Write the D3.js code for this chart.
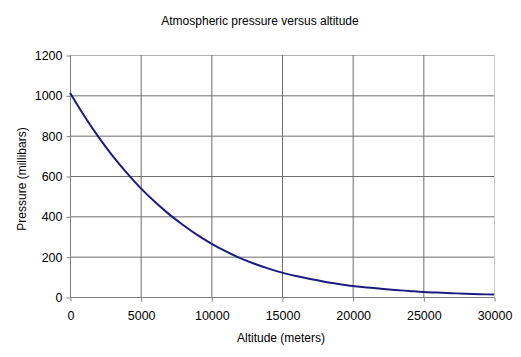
<!DOCTYPE html>
<html><head><meta charset="utf-8">
<script src="https://cdn.jsdelivr.net/npm/d3@7"></script>
<style>body{margin:0;background:#fff}svg{display:block}text{font-family:"Liberation Sans",Arial,sans-serif;fill:#000}</style>
</head><body>
<script>
const title = "Atmospheric pressure versus altitude";
const xTitle = "Altitude (meters)";
const yTitle = "Pressure (millibars)";
const altitude = [0,1000,2000,3000,4000,5000,6000,7000,8000,9000,10000,11000,12000,13000,14000,15000,16000,17000,18000,19000,20000,21000,22000,23000,24000,25000,26000,27000,28000,29000,30000];
const pressure = [1013,899,795,701,617,540,472,411,357,308,265,227,194,166,142,121,104,89,76,65,55,47,41,35,30,25,22,19,16,14,12];
const xTicks = [0,5000,10000,15000,20000,25000,30000];
const yTicks = [0,200,400,600,800,1000,1200];

const W=521,H=357;
const svg=d3.select("body").append("svg").attr("width",W).attr("height",H);
const x=d3.scaleLinear().domain([0,30000]).range([70,494]);
const y=d3.scaleLinear().domain([0,1200]).range([297,55]);

// gridlines
svg.append("g").selectAll("line.h").data(yTicks.filter(d=>d>0)).join("line")
  .attr("x1",x(0)).attr("x2",x(30000)).attr("y1",d=>y(d)+0.5).attr("y2",d=>y(d)+0.5)
  .attr("stroke",d=>d===1200?"#b0b0b0":"#6e6e6e").attr("stroke-width",1);
svg.append("g").selectAll("line.v").data(xTicks.filter(d=>d>0)).join("line")
  .attr("x1",d=>x(d)+0.5).attr("x2",d=>x(d)+0.5).attr("y1",y(1200)).attr("y2",y(0))
  .attr("stroke",d=>d===30000?"#c8c8c8":"#6e6e6e").attr("stroke-width",1);

// axes
const yAxis=d3.axisLeft(y).tickValues(yTicks).tickSize(4).tickPadding(4).tickFormat(d3.format("d"));
const xAxis=d3.axisBottom(x).tickValues(xTicks).tickSize(4).tickPadding(10).tickFormat(d3.format("d"));
const gy=svg.append("g").attr("transform","translate(70.5,0.5)").call(yAxis);
const gx=svg.append("g").attr("transform","translate(0.5,297.5)").call(xAxis);
[gx,gy].forEach(g=>{
  g.select(".domain").attr("stroke","#808080");
  g.selectAll(".tick line").attr("stroke","#808080");
  g.selectAll(".tick text").attr("font-size","12.5px").attr("fill","#000").attr("font-family","Liberation Sans, Arial, sans-serif");
});
gx.select(".domain").attr("d","M"+x(0)+",0H"+x(30000));
gy.select(".domain").attr("d","M0,"+y(1200)+"V"+y(0));

// line
const line=d3.line().x((d,i)=>x(altitude[i])).y(d=>y(d)).curve(d3.curveMonotoneX);
svg.append("path").datum(pressure).attr("d",line).attr("fill","none")
  .attr("stroke","#1c1c80").attr("stroke-width",2);

// titles
svg.append("text").attr("x",260).attr("y",25).attr("text-anchor","middle").attr("font-size","12px").text(title);
svg.append("text").attr("x",281).attr("y",342).attr("text-anchor","middle").attr("font-size","12px").text(xTitle);
svg.append("text").attr("transform","translate(26,179) rotate(-90)").attr("text-anchor","middle").attr("font-size","12px").text(yTitle);
</script>
</body></html>
